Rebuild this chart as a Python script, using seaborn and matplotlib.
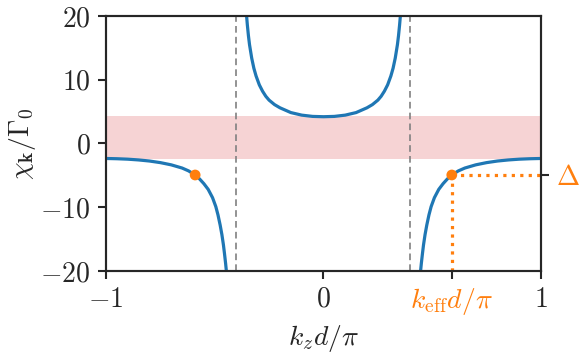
import numpy as np
import pandas as pd
import matplotlib
matplotlib.use("Agg")
import matplotlib.pyplot as plt
import seaborn as sns

# ---- data ----
kz_inner_half = [0.0, 0.05, 0.10, 0.15, 0.20, 0.225, 0.25, 0.265, 0.28, 0.295, 0.31, 0.32, 0.33,
                 0.34, 0.345, 0.35, 0.355, 0.36]
chi_inner_half = [4.2, 4.25, 4.45, 4.85, 5.6, 6.1, 6.8, 7.4, 8.2, 9.2, 10.6, 11.8, 13.4,
                  15.5, 16.9, 18.6, 20.6, 23.0]

kz_outer_half = [0.44, 0.445, 0.45, 0.455, 0.46, 0.467, 0.475, 0.485, 0.495, 0.51, 0.53, 0.55, 0.57,
                 0.59, 0.62, 0.65, 0.70, 0.75, 0.80, 0.85, 0.90, 0.95, 1.0]
chi_outer_half = [-23.0, -20.5, -18.8, -17.3, -15.9, -14.3, -12.8, -11.2, -9.9, -8.5, -7.2, -6.3, -5.55,
                  -4.94, -4.3, -3.85, -3.35, -3.0, -2.75, -2.58, -2.46, -2.39, -2.35]

light_line = [-0.4, 0.4]
band_low, band_high = -2.4, 4.25
k_eff = 0.59
delta = -4.94
dot_kz = [-0.59, 0.59]
dot_chi = [-4.94, -4.94]

x_ticks = [-1, 0, k_eff, 1]
x_ticklabels = [r"$-1$", r"$0$", r"$k_{\rm eff}d/\pi$", r"$1$"]
y_ticks = [-20, -10, 0, 10, 20]
y_ticklabels = [r"$-20$", r"$-10$", r"$0$", r"$10$", r"$20$"]

sns.set_style("ticks")
plt.rcParams["mathtext.fontset"] = "cm"
plt.rcParams["font.family"] = ["serif"]
plt.rcParams["font.serif"] = ["cmr10", "DejaVu Serif"]

fig = plt.figure(figsize=(5.81, 3.57), dpi=100)
ax = fig.add_axes([0.1824, 0.2409, 0.7487, 0.7143])

blue = sns.color_palette()[0]
orange = sns.color_palette()[1]
red = sns.color_palette()[3]

ax.axhspan(band_low, band_high, color=red, alpha=0.2, lw=0, zorder=0)
for xv in light_line:
    ax.axvline(xv, color="gray", ls=(0, (4, 2.5)), lw=1.2, zorder=1)

# inner branch (symmetric about 0)
kz_inner = [-v for v in kz_inner_half[::-1]] + kz_inner_half[1:]
chi_inner = chi_inner_half[::-1] + chi_inner_half[1:]
branches = [
    (kz_inner, chi_inner),
    (kz_outer_half, chi_outer_half),
    ([-v for v in kz_outer_half], chi_outer_half),
]
for xs, ys in branches:
    df = pd.DataFrame({"x": xs, "y": ys})
    sns.lineplot(data=df, x="x", y="y", ax=ax, color=blue, lw=2.3, sort=False, zorder=3)

ax.plot([k_eff, 1], [delta, delta], color=orange, ls=":", lw=2.3, zorder=2, clip_on=False)
ax.plot([k_eff, k_eff], [-20, delta], color=orange, ls=":", lw=2.3, zorder=2)
sns.scatterplot(x=dot_kz, y=dot_chi, ax=ax, color=orange, s=60, edgecolor="none", zorder=4)

ax.set_xlim(-1, 1)
ax.set_ylim(-20, 20)
ax.set_xticks(x_ticks)
ax.set_xticklabels(x_ticklabels, fontsize=20)
ax.get_xticklabels()[2].set_color(orange)
ax.set_yticks(y_ticks)
ax.set_yticklabels(y_ticklabels, fontsize=20)
ax.set_xlabel(r"$k_z d/\pi$", fontsize=20, labelpad=4)
ax.set_ylabel(r"$\chi_{\mathbf{k}}/\Gamma_0$", fontsize=20, labelpad=2)
ax.tick_params(width=1.5, length=6, direction="out", pad=5)
for s in ax.spines.values():
    s.set_linewidth(1.5)

ax2 = ax.twinx()
ax2.set_ylim(-20, 20)
ax2.set_yticks([delta])
ax2.set_yticklabels([r"$\Delta$"], fontsize=20, color=orange)
ax2.tick_params(width=1.5, length=6, direction="out", pad=5)
for s in ax2.spines.values():
    s.set_linewidth(1.5)

fig.savefig("out.png", dpi=100)
